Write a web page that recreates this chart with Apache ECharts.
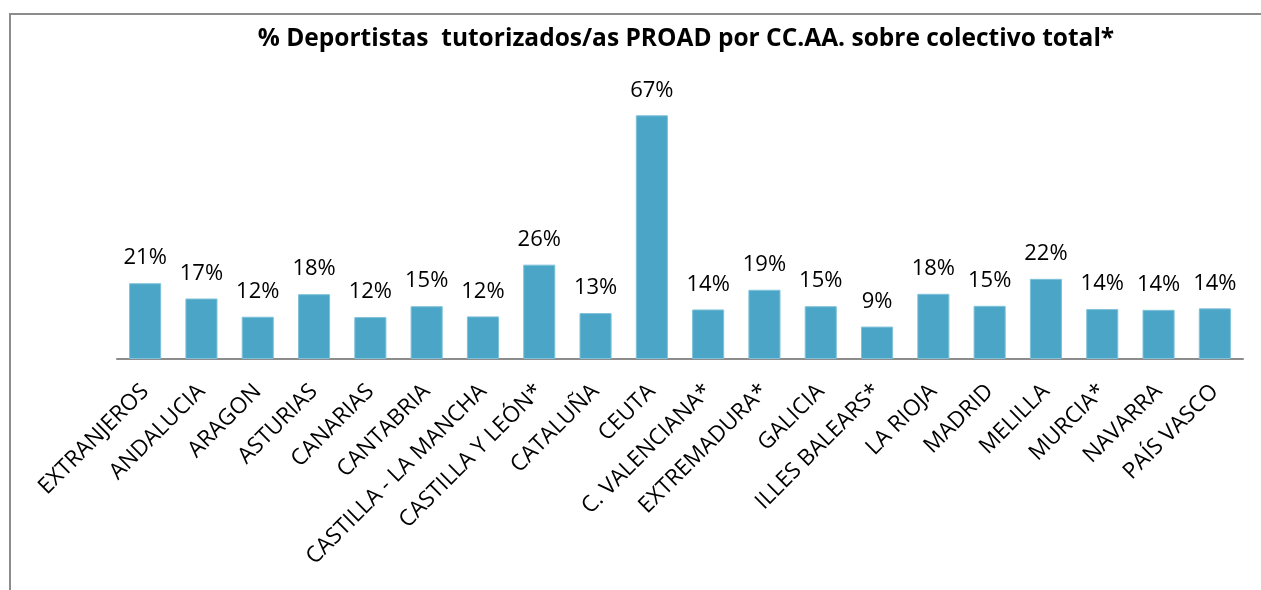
<!DOCTYPE html>
<html><head><meta charset="utf-8">
<script src="https://cdn.jsdelivr.net/npm/echarts@6/dist/echarts.min.js"></script>
<style>html,body{margin:0;padding:0;background:#fff}#c{width:1261px;height:590px}</style>
</head><body><div id="c"></div>
<script>
const categories = ["EXTRANJEROS","ANDALUCIA","ARAGON","ASTURIAS","CANARIAS","CANTABRIA","CASTILLA - LA MANCHA","CASTILLA Y LEÓN*","CATALUÑA","CEUTA","C. VALENCIANA*","EXTREMADURA*","GALICIA","ILLES BALEARS*","LA RIOJA","MADRID","MELILLA","MURCIA*","NAVARRA","PAÍS VASCO"];
const values = [20.8, 16.6, 11.6, 17.8, 11.5, 14.5, 11.7, 25.9, 12.6, 66.9, 13.6, 19.0, 14.5, 8.9, 17.9, 14.6, 22.0, 13.7, 13.5, 13.9];
const titleText = "% Deportistas  tutorizados/as PROAD por CC.AA. sobre colectivo total*";
const chart = echarts.init(document.getElementById('c'));
const F = "'Open Sans', 'Noto Sans', sans-serif";
chart.setOption({
  animation:false,
  title:{text:titleText,left:681,textAlign:'center',top:22,textStyle:{fontFamily:F,fontWeight:'bold',fontSize:24.5,color:'#000'}},
  graphic:[{type:'rect',shape:{x:10,y:14,width:1400,height:700},style:{fill:'none',stroke:'#8c8c8c',lineWidth:2}}],
  grid:{left:117,right:18,top:104,bottom:231},
  xAxis:{type:'category',data:categories,axisTick:{show:false},
    axisLine:{lineStyle:{color:'#8c8c8c',width:2}},
    axisLabel:{rotate:45,interval:0,margin:29,color:'#000',fontFamily:F,fontSize:22.5}},
  yAxis:{type:'value',min:0,max:70,show:false,splitLine:{show:false}},
  series:[{type:'bar',data:values,barCategoryGap:'43%',
    itemStyle:{color:'#4aa5c6',borderColor:'#7fc2da',borderWidth:1},
    label:{show:true,position:'top',distance:14,color:'#000',fontFamily:F,fontSize:22,
      formatter:p=>Math.round(p.value)+'%'}}]
});
</script></body></html>
